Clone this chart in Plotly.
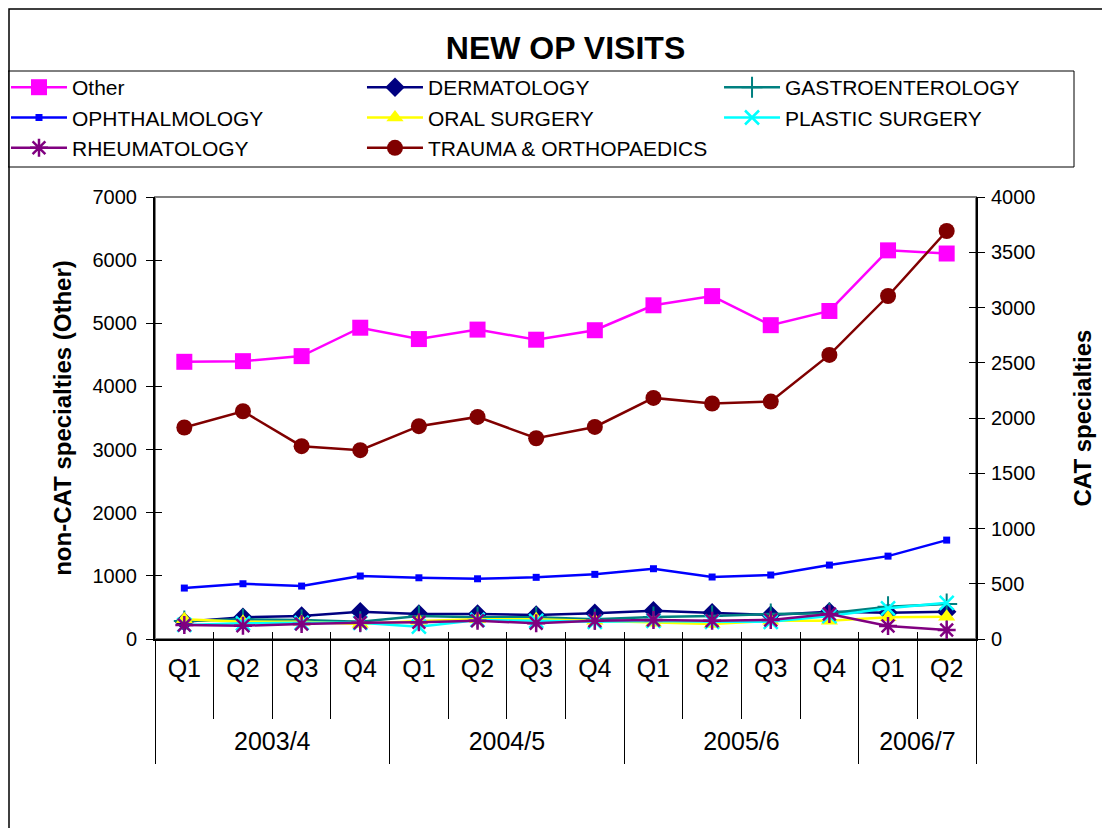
import plotly.graph_objects as go

# quarters and financial years
quarters = ["Q1", "Q2", "Q3", "Q4"] * 3 + ["Q1", "Q2"]
years = ["2003/4", "2004/5", "2005/6", "2006/7"]
year_len = [4, 4, 4, 2]

# left axis (non-CAT)
other = [4390, 4400, 4480, 4930, 4750, 4900, 4740, 4890, 5285, 5430, 4970, 5195, 6155, 6105]

# right axis (CAT specialties)
dermatology = [156, 196, 208, 247, 226, 226, 217, 232, 256, 238, 217, 247, 238, 247]
gastroenterology = [163, 178, 172, 156, 208, 196, 196, 178, 199, 208, 226, 232, 292, 316]
ophthalmology = [461, 500, 479, 570, 554, 545, 558, 585, 636, 561, 579, 669, 750, 895]
oral_surgery = [178, 156, 156, 136, 163, 178, 178, 165, 147, 136, 165, 165, 196, 202]
plastic_surgery = [127, 142, 147, 147, 111, 172, 165, 156, 163, 156, 156, 208, 278, 328]
rheumatology = [127, 120, 136, 147, 151, 165, 142, 165, 172, 165, 172, 226, 118, 81]
trauma = [1914, 2061, 1745, 1709, 1926, 2010, 1817, 1919, 2182, 2131, 2149, 2571, 3104, 3692]

idx = list(range(len(quarters)))

# year boundaries / centres
bounds = [-0.5]
for n in year_len:
    bounds.append(bounds[-1] + n)
centres = [(bounds[i] + bounds[i + 1]) / 2 for i in range(len(years))]

FONT = "Liberation Sans, Arial, sans-serif"

fig = go.Figure()

fig.add_trace(go.Scatter(x=idx, y=other, name="Other", mode="lines+markers",
                         line=dict(color="#FF00FF", width=2.5), legend="legend",
                         marker=dict(symbol="square", size=16, color="#FF00FF")))

# name, values, colour, marker, size, marker line width, legend column
specs = [
    ("DERMATOLOGY", dermatology, "#000080", "diamond", 15, 0, "legend2"),
    ("GASTROENTEROLOGY", gastroenterology, "#008080", "cross-thin-open", 15, 2, "legend3"),
    ("OPHTHALMOLOGY", ophthalmology, "#0000FF", "square", 7, 0, "legend"),
    ("ORAL SURGERY", oral_surgery, "#FFFF00", "triangle-up", 15, 0, "legend2"),
    ("PLASTIC SURGERY", plastic_surgery, "#00FFFF", "x-thin-open", 14, 2.5, "legend3"),
    ("RHEUMATOLOGY", rheumatology, "#800080", "asterisk-open", 15, 2.5, "legend"),
    ("TRAUMA & ORTHOPAEDICS", trauma, "#800000", "circle", 16, 0, "legend2"),
]
for name, vals, col, sym, size, lw, leg in specs:
    fig.add_trace(go.Scatter(x=idx, y=vals, name=name, mode="lines+markers", yaxis="y2",
                             legend=leg, line=dict(color=col, width=2.5),
                             marker=dict(symbol=sym, size=size, color=col,
                                         line=dict(color=col, width=lw))))

# empty traces so the helper axes (extra ticks / labels) get drawn
for ax in ["x2", "x3", "x4", "x5"]:
    fig.add_trace(go.Scatter(x=[], y=[], xaxis=ax, showlegend=False, hoverinfo="skip"))
for ax in ["y3", "y4"]:
    fig.add_trace(go.Scatter(x=[], y=[], yaxis=ax, showlegend=False, hoverinfo="skip"))

xr = [-0.5, len(quarters) - 0.5]
leg_common = dict(orientation="v", xanchor="left", y=1.294, yanchor="top",
                  font=dict(size=21, family=FONT), itemwidth=56,
                  bgcolor="rgba(0,0,0,0)", borderwidth=0, traceorder="normal")
helper = dict(showgrid=False, zeroline=False, showline=False, showticklabels=False,
              tickcolor="black", tickwidth=1)

fig.update_layout(
    width=1102, height=820,
    margin=dict(l=147, r=134, t=189, b=189, autoexpand=False),
    paper_bgcolor="white", plot_bgcolor="white",
    font=dict(family=FONT, color="black"),
    title=dict(text="<b>NEW OP VISITS</b>", x=0.5, xref="paper", xanchor="center",
               y=1 - 40 / 820, yref="container", yanchor="middle",
               font=dict(size=32, family=FONT)),
    showlegend=True,
    legend=dict(x=-0.1815, **leg_common),
    legend2=dict(x=0.2521, **leg_common),
    legend3=dict(x=0.687, **leg_common),
    xaxis=dict(range=xr, tickvals=idx, ticktext=quarters, ticks="",
               showline=True, linecolor="black", linewidth=2, showgrid=False,
               zeroline=False, tickfont=dict(size=25), ticklabelstandoff=6),
    # quarter separators below the axis
    xaxis2=dict(range=xr, overlaying="x", anchor="y", side="bottom",
                tickvals=[i + 0.5 for i in idx[:-1]], ticks="outside", ticklen=79, **helper),
    # year separators
    xaxis3=dict(range=xr, overlaying="x", anchor="y", side="bottom",
                tickvals=bounds, ticks="outside", ticklen=124, **helper),
    # year labels
    xaxis4=dict(range=xr, overlaying="x", anchor="y", side="bottom",
                tickvals=centres, ticktext=years, ticks="",
                tickfont=dict(size=25), ticklabelstandoff=85,
                showgrid=False, zeroline=False, showline=False),
    # short inner part of the crossing category ticks
    xaxis5=dict(range=xr, overlaying="x", anchor="y", side="bottom",
                tickvals=[i + 0.5 for i in idx[:-1]], ticks="inside", ticklen=7, **helper),
    yaxis=dict(range=[0, 7000], dtick=1000, ticks="outside", ticklen=7,
               tickcolor="black", showline=True, linecolor="black", linewidth=2,
               showgrid=False, zeroline=False, tickfont=dict(size=20),
               ticklabelstandoff=5, automargin=False,
               title=dict(text="<b>non-CAT specialties (Other)</b>",
                          font=dict(size=24), standoff=14)),
    yaxis2=dict(range=[0, 4000], dtick=500, overlaying="y", side="right", anchor="x",
                ticks="outside", ticklen=7, tickcolor="black", showline=True,
                linecolor="black", linewidth=2, showgrid=False, zeroline=False,
                tickfont=dict(size=20), ticklabelstandoff=2, automargin=False,
                title=dict(text="<b>CAT specialties</b>", font=dict(size=24), standoff=40)),
    yaxis3=dict(range=[0, 7000], dtick=1000, overlaying="y", side="left", anchor="x",
                ticks="inside", ticklen=7, **helper),
    yaxis4=dict(range=[0, 4000], dtick=500, overlaying="y", side="right", anchor="x",
                ticks="inside", ticklen=7, **helper),
)

# plot area frame, legend box and outer chart border
fig.add_shape(type="rect", xref="paper", yref="paper", x0=0, x1=1, y0=0, y1=1,
              line=dict(color="#808080", width=2), layer="below")
fig.add_shape(type="rect", xref="paper", yref="paper",
              x0=(8 - 155) / 821, x1=(1074 - 155) / 821,
              y0=(639 - 167) / 442, y1=(639 - 71) / 442,
              line=dict(color="black", width=1))
fig.add_shape(type="rect", xref="paper", yref="paper",
              x0=(9 - 155) / 821, x1=1.3,
              y0=-0.6, y1=(639 - 9) / 442,
              line=dict(color="black", width=1.5))

fig.write_html("out.html")
